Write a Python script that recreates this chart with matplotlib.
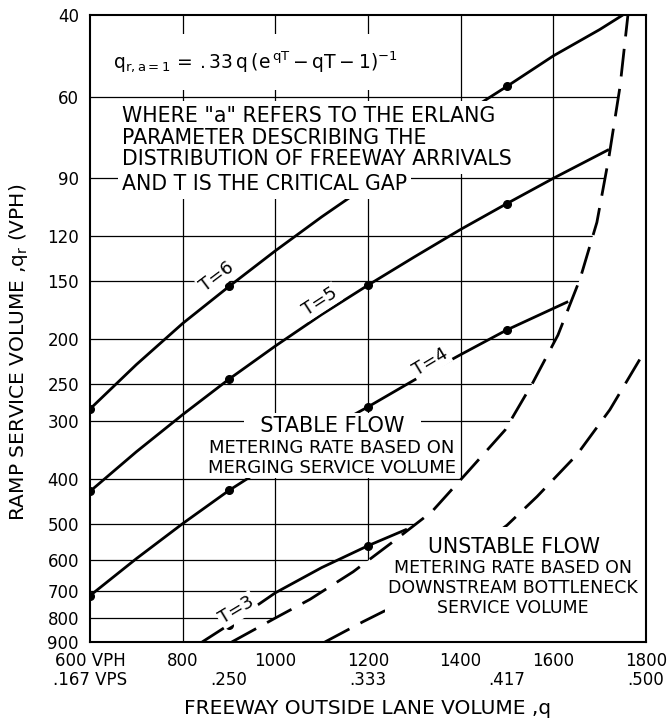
import matplotlib
matplotlib.use("Agg")
import matplotlib.pyplot as plt
from matplotlib.patches import Polygon
from matplotlib.ticker import NullLocator

plt.rcParams['font.family'] = ['DejaVu Sans']
plt.rcParams['mathtext.fontset'] = 'dejavusans'
plt.rcParams['mathtext.default'] = 'regular'

# ---- axis ticks -------------------------------------------------------
x_ticks = [600, 800, 1000, 1200, 1400, 1600, 1800]
x_tick_labels = ["600 VPH", "800", "1000", "1200", "1400", "1600", "1800"]
vps_ticks = [600, 900, 1200, 1500, 1800]
vps_labels = [".167 VPS", ".250", ".333", ".417", ".500"]
y_ticks = [40, 60, 90, 120, 150, 200, 250, 300, 400, 500, 600, 700, 800, 900]

# ---- merging service volume, q_r (VPH) vs freeway volume q (VPH) -------
t6_q = [600, 700, 800, 900, 1000, 1100, 1200, 1300, 1400, 1500, 1600, 1700, 1750]
t6_v = [283, 227, 185, 154, 129, 109, 93, 78, 66, 57, 49, 43, 40]

t5_q = [600, 700, 800, 900, 1000, 1100, 1200, 1300, 1400, 1500, 1600, 1720]
t5_v = [426, 350, 291, 244, 207, 177, 153, 133, 116, 102, 90, 78]

t4_q = [600, 700, 800, 900, 1000, 1100, 1200, 1300, 1400, 1500, 1632]
t4_v = [715, 595, 500, 424, 366, 318, 280, 245, 216, 191, 166]

t3_q = [842, 900, 1000, 1100, 1200, 1284]
t3_v = [900, 826, 705, 622, 558, 514]

dot_q = [600, 900, 1200, 1500]

# ---- downstream bottleneck service volume (dashed) ---------------------
bn1_q = [906, 1004, 1075, 1168, 1254, 1338, 1420, 1496, 1556, 1610, 1658, 1694, 1720, 1744, 1761]
bn1_v = [900, 795, 728, 635, 547, 471, 382, 314, 248, 196, 148, 112, 81, 57, 40]

bn2_q = [1107, 1189, 1286, 1500, 1565, 1651, 1722, 1800]
bn2_v = [900, 814, 728, 504, 437, 355, 284, 210]

curves = [
    (t6_q, t6_v, "T=6", (874, 147), 37),
    (t5_q, t5_v, "T=5", (1096, 166), 33),
    (t4_q, t4_v, "T=4", (1334, 224), 31),
    (t3_q, t3_v, "T=3", (917, 767), 31),
]

W, H = 669, 724
fig = plt.figure(figsize=(W / 100, H / 100), dpi=100)
ax = fig.add_axes([90 / W, 1 - 642 / H, 556 / W, 627 / H])

ax.set_yscale('log')
ax.set_xlim(x_ticks[0], x_ticks[-1])
ax.set_ylim(y_ticks[-1], y_ticks[0])
ax.set_yticks(y_ticks)
ax.set_yticklabels([str(v) for v in y_ticks])
ax.yaxis.set_minor_locator(NullLocator())
ax.set_xticks(x_ticks)
ax.set_xticklabels(x_tick_labels)
ax.tick_params(axis='both', length=0, labelsize=12, colors='black')
ax.tick_params(axis='y', pad=8)
ax.tick_params(axis='x', pad=7.5)
for s in ax.spines.values():
    s.set_linewidth(1.5)

for q, lab in zip(vps_ticks, vps_labels):
    ax.text(q, -0.060, lab, transform=ax.get_xaxis_transform(),
            ha='center', va='center', fontsize=12, clip_on=False)

# grid only in the stable region (left of / above the first dashed curve)
region = Polygon([(x_ticks[0], y_ticks[-1])] + list(zip(bn1_q, bn1_v)) +
                 [(x_ticks[0], y_ticks[0])], closed=True,
                 transform=ax.transData, fc='none', ec='none')
grid = []
for xv in x_ticks[1:-1]:
    grid.append(ax.axvline(xv, color='black', lw=0.9, zorder=1))
for yv in y_ticks[1:-1]:
    grid.append(ax.axhline(yv, color='black', lw=0.9, zorder=1))
for g in grid:
    g.set_clip_path(region)

# solid merging curves with dots
for q, v, lab, pos, rot in curves:
    marks = [i for i, x in enumerate(q) if x in dot_q]
    ax.plot(q, v, color='black', lw=2.0, marker='o', ms=5.5,
            markevery=marks, solid_capstyle='butt', zorder=3)
    ax.text(pos[0], pos[1], lab, rotation=rot, rotation_mode='anchor',
            ha='center', va='center', fontsize=13, zorder=6,
            bbox=dict(boxstyle='square,pad=0.1', fc='white', ec='none'))

# dashed bottleneck curves
for q, v in [(bn1_q, bn1_v), (bn2_q, bn2_v)]:
    ax.plot(q, v, color='black', lw=2.0, dashes=(10, 4.5),
            dash_capstyle='butt', zorder=3)

white = dict(fc='white', ec='none')

# formula
ax.text(0.2968, 0.925, r"$q_{r,a=1}\,=\,.33\,q\,(e^{\,qT}-qT-1)^{-1}$",
        transform=ax.transAxes, ha='center', va='center', fontsize=13.5,
        zorder=5, bbox=dict(boxstyle='square,pad=0.8', **white))

# explanation
ax.text(0.0576, 0.8046,
        'WHERE "a" REFERS TO THE ERLANG\nPARAMETER DESCRIBING THE\n'
        'DISTRIBUTION OF FREEWAY ARRIVALS',
        transform=ax.transAxes, ha='left', va='center', fontsize=14.8,
        linespacing=1.1, zorder=5,
        bbox=dict(boxstyle='square,pad=0.25', **white))
ax.text(0.0576, 0.7297, 'AND T IS THE CRITICAL GAP',
        transform=ax.transAxes, ha='left', va='center', fontsize=14.8,
        zorder=5, bbox=dict(boxstyle='square,pad=0.2', **white))

# stable region
ax.text(0.4353, 0.3445, '  STABLE FLOW  ', transform=ax.transAxes,
        ha='center', va='center', fontsize=15, zorder=5,
        bbox=dict(boxstyle='square,pad=0.15', **white))
ax.text(0.4344, 0.2935, 'METERING RATE BASED ON\nMERGING SERVICE VOLUME',
        transform=ax.transAxes, ha='center', va='center', fontsize=13,
        linespacing=1.12, zorder=5,
        bbox=dict(boxstyle='square,pad=0.05', **white))

# unstable region
ax.text(0.7626, 0.1523, 'UNSTABLE FLOW', transform=ax.transAxes,
        ha='center', va='center', fontsize=14.8, zorder=5,
        bbox=dict(boxstyle='square,pad=0.45', **white))
ax.text(0.7608, 0.0861,
        'METERING RATE BASED ON\nDOWNSTREAM BOTTLENECK\nSERVICE VOLUME',
        transform=ax.transAxes, ha='center', va='center', fontsize=12.5,
        linespacing=1.15, zorder=5,
        bbox=dict(boxstyle='square,pad=0.2', **white))

# axis titles
fig.text(368 / W, 1 - 708 / H, 'FREEWAY OUTSIDE LANE VOLUME ,q',
         ha='center', va='center', fontsize=14.5)
fig.text(19 / W, 1 - 352 / H, r'RAMP SERVICE VOLUME ,$q_r$ (VPH)',
         ha='center', va='center', rotation=90, fontsize=14.5)

fig.savefig('out.png', dpi=100, facecolor='white')
